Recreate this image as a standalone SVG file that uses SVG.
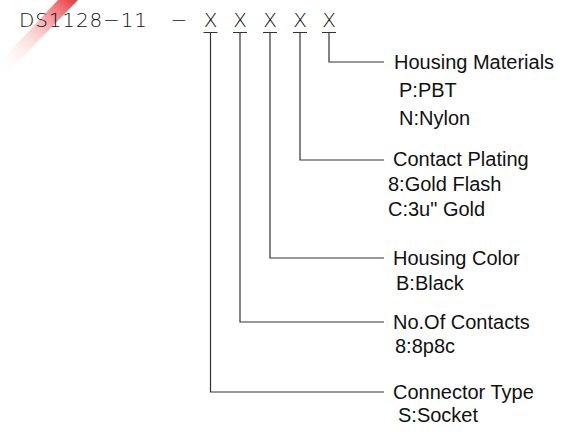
<svg xmlns="http://www.w3.org/2000/svg" width="574" height="438" viewBox="0 0 574 438">
  <defs>
    <linearGradient id="wm" x1="72" y1="0" x2="0" y2="75" gradientUnits="userSpaceOnUse">
      <stop offset="0" stop-color="#e8202a" stop-opacity="0.85"/>
      <stop offset="0.45" stop-color="#f05a5a" stop-opacity="0.3"/>
      <stop offset="1" stop-color="#ffffff" stop-opacity="0"/>
    </linearGradient>
    <style>
      .title { font-family: "DejaVu Sans", "Liberation Sans", sans-serif; font-weight: 200; font-size: 20px; fill: #111; }
      .lab { font-family: "Liberation Sans", Arial, sans-serif; font-size: 20px; fill: #111; }
      .ln { fill: none; stroke: #333; stroke-width: 1.2; }
    </style>
  </defs>
  <rect width="574" height="438" fill="#ffffff"/>
  <polygon points="58,0 78,0 6,74 0,76 0,62" fill="url(#wm)"/>

  <g id="code">
    <text class="title" x="19" y="27" textLength="128" lengthAdjust="spacing">DS1128−11</text>
    <text class="title" x="179" y="27" text-anchor="middle">−</text>
    <text class="title" x="210.5" y="27" text-anchor="middle">X</text>
    <text class="title" x="240" y="27" text-anchor="middle">X</text>
    <text class="title" x="270" y="27" text-anchor="middle">X</text>
    <text class="title" x="300" y="27" text-anchor="middle">X</text>
    <text class="title" x="329" y="27" text-anchor="middle">X</text>
  </g>

  <g id="connectors">
    <path class="ln" d="M203.5,32.5 H217.5 M210.5,32.5 V392 H384"/>
    <path class="ln" d="M233,32.5 H247 M240,32.5 V322 H384"/>
    <path class="ln" d="M263,32.5 H277 M270,32.5 V258 H384"/>
    <path class="ln" d="M293,32.5 H307 M300,32.5 V160 H384"/>
    <path class="ln" d="M322,32.5 H336 M329,32.5 V62 H384"/>
  </g>

  <g id="housing-materials">
    <text class="lab" x="394" y="69">Housing Materials</text>
    <text class="lab" x="399" y="97">P:PBT</text>
    <text class="lab" x="399" y="125">N:Nylon</text>
  </g>
  <g id="contact-plating">
    <text class="lab" x="393" y="166">Contact Plating</text>
    <text class="lab" x="388" y="191">8:Gold Flash</text>
    <text class="lab" x="388" y="216">C:3u" Gold</text>
  </g>
  <g id="housing-color">
    <text class="lab" x="393" y="265">Housing Color</text>
    <text class="lab" x="396" y="290">B:Black</text>
  </g>
  <g id="no-of-contacts">
    <text class="lab" x="393" y="329">No.Of Contacts</text>
    <text class="lab" x="395" y="353">8:8p8c</text>
  </g>
  <g id="connector-type">
    <text class="lab" x="393" y="399">Connector Type</text>
    <text class="lab" x="398" y="422">S:Socket</text>
  </g>
</svg>
